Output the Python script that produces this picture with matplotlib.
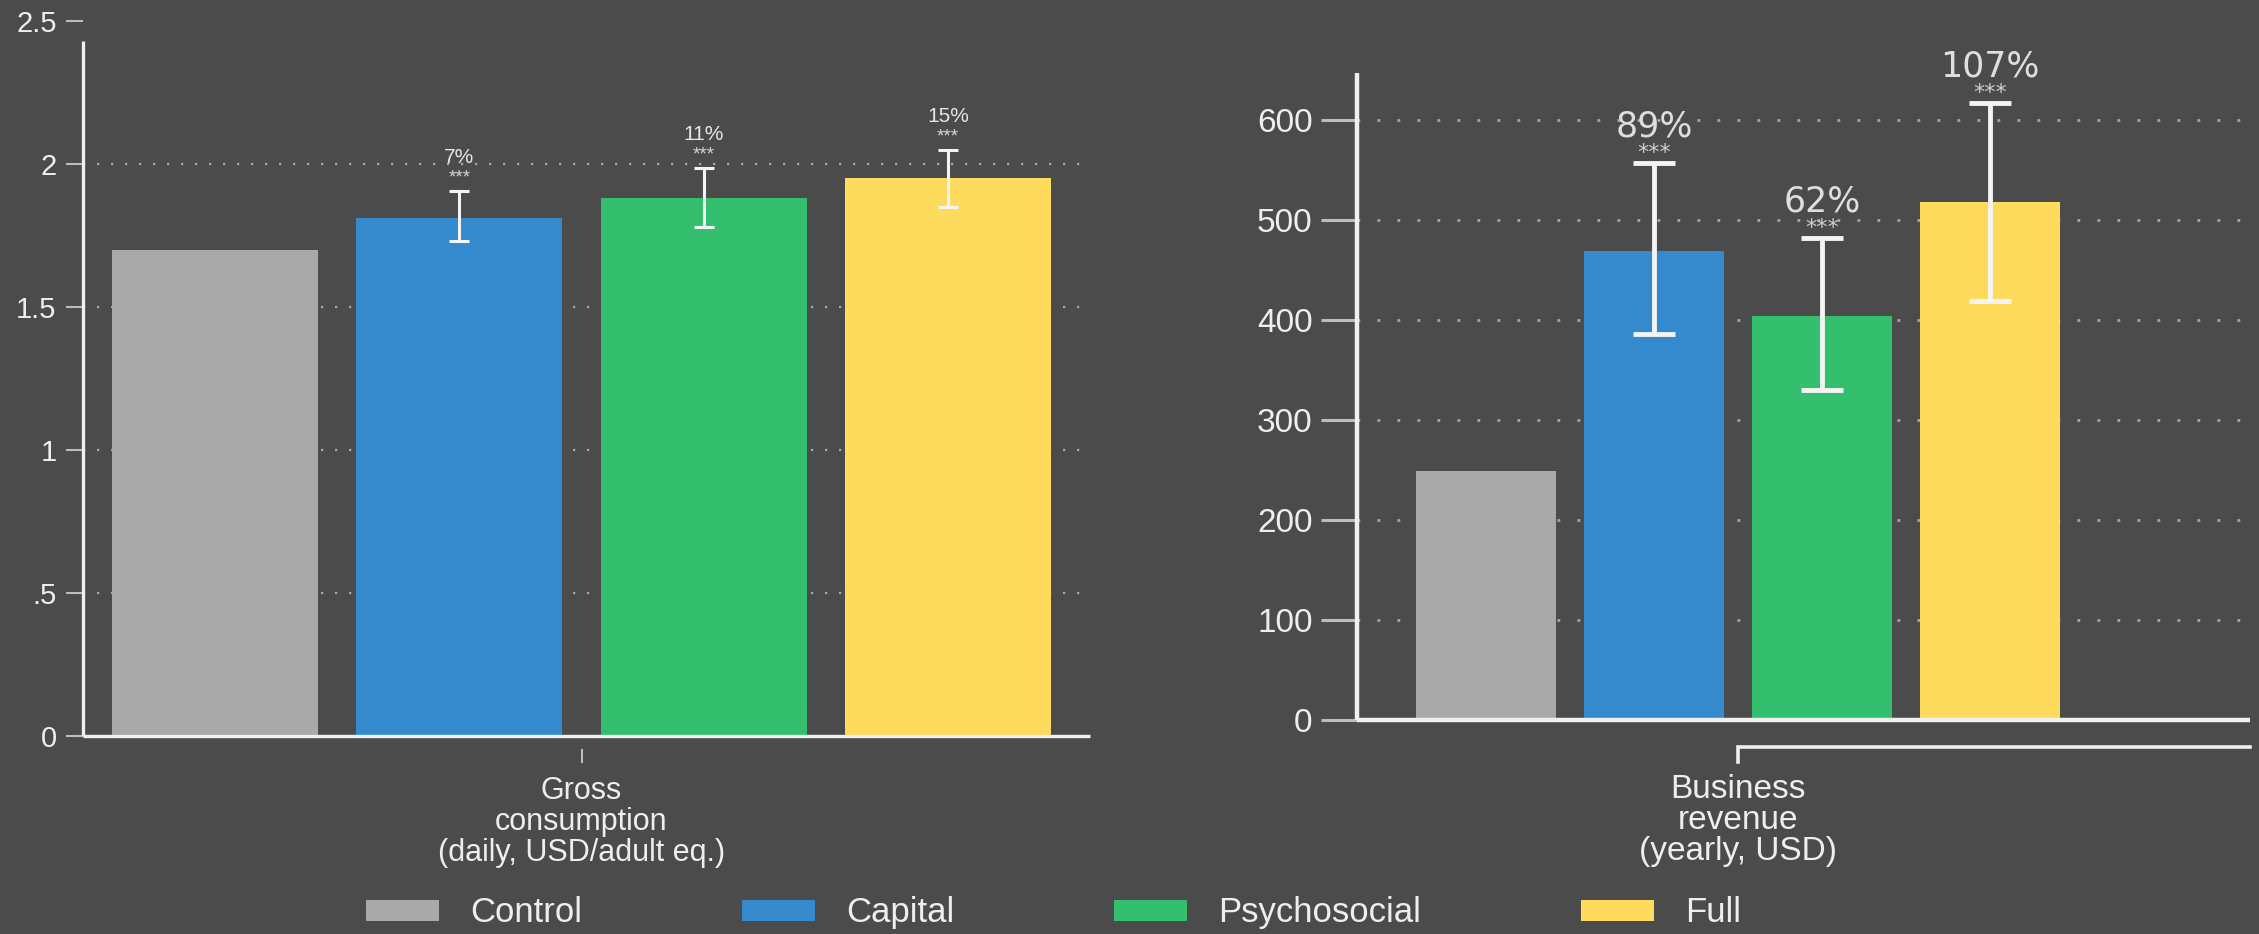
import numpy as np
import matplotlib
matplotlib.use('Agg')
import matplotlib.pyplot as plt
from matplotlib.patches import Patch

GROUPS = ['Control', 'Capital', 'Psychosocial', 'Full']
COLORS = ['#a9a9a9', '#3589cd', '#33bf6e', '#fedb5c']

# gross consumption (daily, USD/adult eq.)
CONS_MEAN = [1.70, 1.81, 1.88, 1.95]
CONS_LO = [np.nan, 1.73, 1.78, 1.85]
CONS_HI = [np.nan, 1.905, 1.985, 2.05]
CONS_PCT = ['', '7%', '11%', '15%']
CONS_TICKS = [0, 0.5, 1, 1.5, 2, 2.5]
CONS_TICKLABELS = ['0', '.5', '1', '1.5', '2', '2.5']

# business revenue (yearly, USD)
REV_MEAN = [249, 469, 404, 518]
REV_LO = [np.nan, 386, 330, 419]
REV_HI = [np.nan, 557, 482, 617]
REV_PCT = ['', '89%', '62%', '107%']
REV_TICKS = [0, 100, 200, 300, 400, 500, 600]

STARS = ['', '***', '***', '***']

BG = '#4b4b4b'
FG = '#eeeeee'
AXIS = '#f0f0f0'
TICK = '#bdbdbd'
GRID = '#a8a8a8'

plt.rcParams['font.family'] = ['Liberation Sans', 'DejaVu Sans']

fig = plt.figure(figsize=(22.59, 9.34), dpi=100, facecolor=BG)

x = np.arange(len(GROUPS))
mid = (len(GROUPS) - 1) / 2


def style_axes(ax, ticks, ticklabels, spine_top, lw, tick_len, tick_w, pad, size):
    ax.set_facecolor(BG)
    for s in ('top', 'right'):
        ax.spines[s].set_visible(False)
    for s in ('left', 'bottom'):
        ax.spines[s].set_color(AXIS)
        ax.spines[s].set_linewidth(lw)
        ax.spines[s].set_capstyle('butt')
    ax.spines['left'].set_bounds(0, spine_top)
    ax.set_xticks([])
    ax.set_yticks(ticks)
    ax.set_yticklabels(ticklabels)
    ax.tick_params(axis='y', length=tick_len, width=tick_w, color=TICK,
                   pad=pad, labelsize=size, labelcolor=FG)


def draw_bars(ax, means, lo, hi, width, grid_levels, grid_lw, grid_dash,
              err_lw, capsize):
    xl = ax.get_xlim()
    ax.hlines(grid_levels, xl[0], xl[1], colors=GRID, linewidth=grid_lw,
              linestyles=[(0, grid_dash)], zorder=0.5)
    ax.bar(x, means, width=width, color=COLORS, zorder=1)
    means = np.asarray(means, float)
    lo = np.asarray(lo, float)
    hi = np.asarray(hi, float)
    ok = ~np.isnan(lo)
    ax.errorbar(x[ok], means[ok], yerr=[means[ok] - lo[ok], hi[ok] - means[ok]],
                fmt='none', ecolor='#f4f4f4', elinewidth=err_lw,
                capsize=capsize, capthick=err_lw, zorder=3)
    ax.set_xlim(xl)
    return ok


# ---- left panel: consumption ----
axl = fig.add_axes([0.0367, 0.2120, 0.4458, 0.7809])
axl.set_xlim(-0.54, 3.58)
axl.set_ylim(0, 2.55)
style_axes(axl, CONS_TICKS, CONS_TICKLABELS, 2.43, 2.4, 12, 1.5, 7, 21)
ok = draw_bars(axl, CONS_MEAN, CONS_LO, CONS_HI, 0.843, CONS_TICKS[1:-1],
               1.6, (1, 5.3), 2.2, 7)
for i in x[ok]:
    axl.annotate(CONS_PCT[i], (i, CONS_HI[i]), xytext=(0, 20),
                 textcoords='offset points', ha='center', va='baseline',
                 fontsize=15, color='#e6e6e6')
    axl.annotate(STARS[i], (i, CONS_HI[i]), xytext=(0, 6),
                 textcoords='offset points', ha='center', va='baseline',
                 fontsize=13.5, color='#d6d6d6')
axl.plot([mid, mid], [-0.05, -0.09], color=TICK, lw=1.5, clip_on=False)
axl.annotate('Gross\nconsumption\n(daily, USD/adult eq.)', (mid, 0),
             xytext=(0, -62), textcoords='offset points', ha='center',
             va='center', fontsize=22, color=FG, linespacing=1.05)

# ---- right panel: business revenue ----
axr = fig.add_axes([0.6007, 0.2291, 0.3953, 0.7495])
axr.set_xlim(-0.768, 4.55)
axr.set_ylim(0, 700)
style_axes(axr, REV_TICKS, [str(t) for t in REV_TICKS], 647, 3.2, 26, 2.2, 6, 24)
ok = draw_bars(axr, REV_MEAN, REV_LO, REV_HI, 0.833, REV_TICKS[1:],
               2.0, (1, 6.2), 3.5, 15)
for i in x[ok]:
    axr.annotate(REV_PCT[i], (i, REV_HI[i]), xytext=(0, 19),
                 textcoords='offset points', ha='center', va='baseline',
                 fontsize=25, color='#dedede', family='DejaVu Sans')
    axr.annotate(STARS[i], (i, REV_HI[i]), xytext=(0, 3),
                 textcoords='offset points', ha='center', va='baseline',
                 fontsize=16, color='#cfcfcf', family='DejaVu Sans')
xr = axr.get_xlim()[1]
axr.plot([mid, mid, xr], [-42, -27, -27], color=AXIS, lw=2.6, clip_on=False,
         solid_joinstyle='miter')
axr.annotate('Business\nrevenue\n(yearly, USD)', (mid, 0),
             xytext=(0, -72), textcoords='offset points', ha='center',
             va='center', fontsize=24, color=FG, linespacing=1.0)

# ---- legend ----
handles = [Patch(facecolor=c, edgecolor='none') for c in COLORS]
fig.legend(handles, GROUPS, loc='center', bbox_to_anchor=(0.4665, 0.0225),
           ncol=4, frameon=False, handlelength=2.1, handleheight=0.55,
           handletextpad=0.9, columnspacing=4.6, borderpad=0,
           labelcolor=FG, fontsize=25)

fig.savefig('out.png', dpi=100, facecolor=BG)
